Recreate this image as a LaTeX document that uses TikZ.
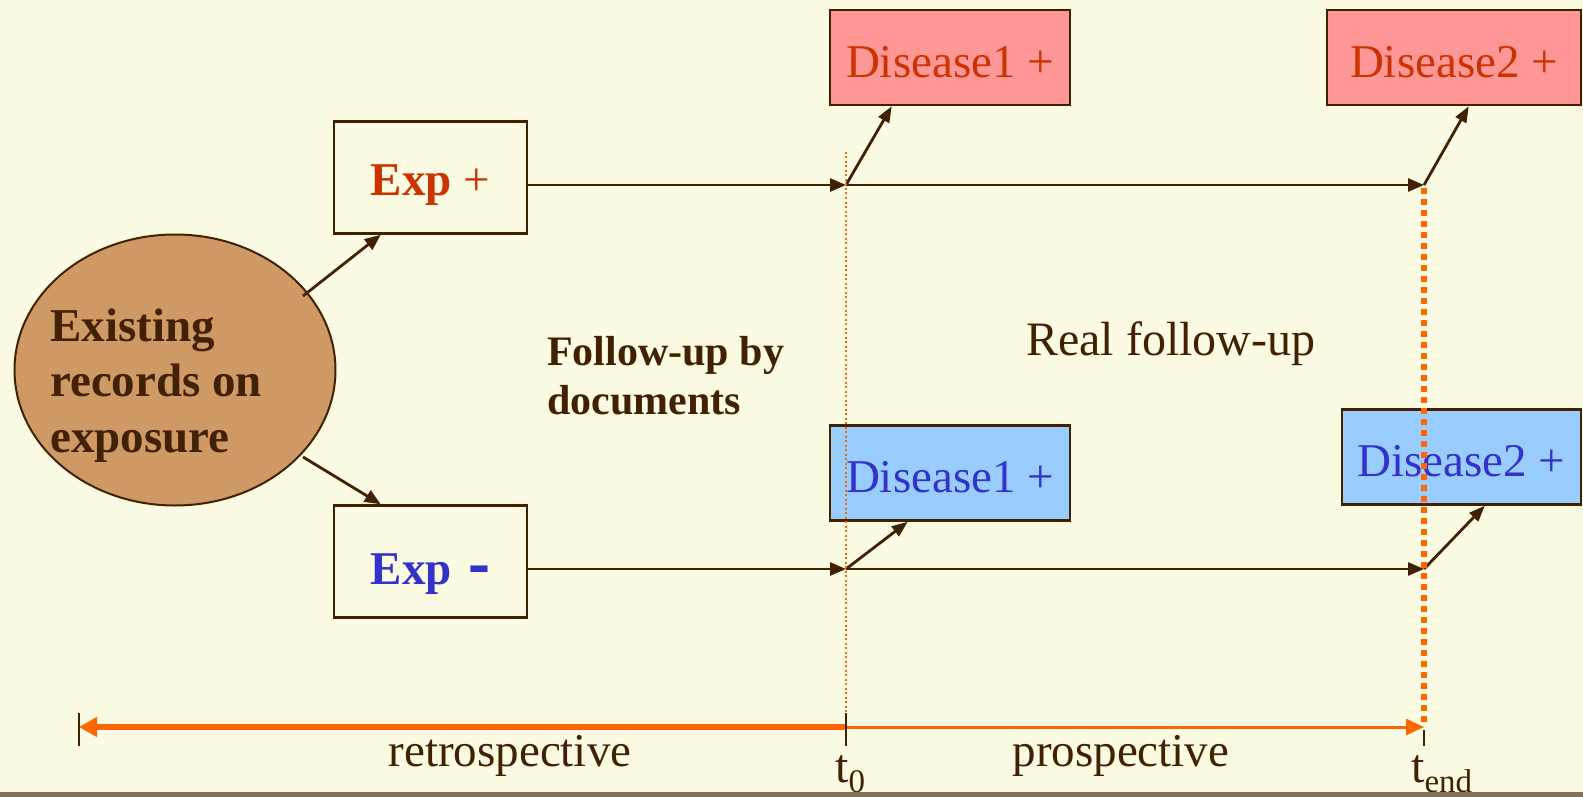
\documentclass[tikz,border=0pt]{standalone}
\usepackage{fontspec}
\setmainfont{Liberation Serif}
\usetikzlibrary{arrows.meta,shapes.geometric,calc}
\definecolor{bg}{HTML}{FBFBE3}
\definecolor{dkbrown}{HTML}{422100}
\definecolor{ellfill}{HTML}{CF9966}
\definecolor{redfill}{HTML}{FF9797}
\definecolor{redtext}{HTML}{CC3300}
\definecolor{bluefill}{HTML}{99CCFF}
\definecolor{bluetext}{HTML}{3333CC}
\definecolor{orng}{HTML}{FF6600}
\definecolor{barcol}{HTML}{857157}
\newcommand{\lowr}[2]{\raisebox{-#1}[\height][\depth]{#2}}
\tikzset{
  bigfont/.style={font=\fontsize{47}{56}\selectfont},
  expbox/.style={draw=dkbrown, line width=2.5, fill=bg, minimum width=193, minimum height=112, inner sep=0, bigfont},
  disbox/.style={draw=dkbrown, line width=2.5, minimum height=95, inner sep=0, bigfont},
  conn/.style={draw=dkbrown, line width=2.8, -{Triangle[length=16,width=13]}},
  diag/.style={draw=dkbrown, line width=2.8, -{Triangle[length=16,width=12]}},
}
\begin{document}
\begin{tikzpicture}[x=1pt,y=-1pt]
\fill[bg] (0,0) rectangle (1583,797);
\useasboundingbox (0,0) rectangle (1583,797);

% ellipse
\node[ellipse, draw=dkbrown, line width=2, fill=ellfill, minimum width=321, minimum height=271, inner sep=0] (rec) at (175,370) {};
\node[anchor=base west, inner sep=0, text=dkbrown, font=\fontsize{47}{55.5}\selectfont\bfseries] (rectext) at (50,341)
  {\begin{tabular}[t]{@{}l@{}}Existing\\records on\\exposure\end{tabular}};

% exposure boxes
\node[expbox] (expp) at (430.5,177.5) {\lowr{8pt}{\textcolor{redtext}{\textbf{Exp} +}}};
\node[expbox] (expm) at (430.5,561.5) {\lowr{13pt}{\textcolor{bluetext}{\textbf{Exp}\hspace{5pt} \raisebox{-3pt}{\scalebox{1.4}[1.65]{\textbf{-}}}}}};

% disease boxes
\node[disbox, fill=redfill, minimum width=240, text=redtext] (d1p) at (950,57.5) {\lowr{4.5pt}{Disease1 +}};
\node[disbox, fill=redfill, minimum width=254, text=redtext] (d2p) at (1454,57.5) {\lowr{4.5pt}{Disease2 +}};
\node[disbox, fill=bluefill, minimum width=240, text=bluetext] (d1m) at (950,473) {\lowr{4pt}{Disease1 +}};
\node[disbox, fill=bluefill, minimum width=239, text=bluetext] (d2m) at (1461.5,457) {\lowr{4pt}{Disease2 +}};

% texts
\node[anchor=base west, inner sep=0, text=dkbrown, font=\fontsize{42}{49}\selectfont\bfseries] (fubd) at (547,365)
  {\begin{tabular}[t]{@{}l@{}}Follow-up by\\documents\end{tabular}};
\node[anchor=base west, inner sep=0, text=dkbrown, font=\fontsize{48}{56}\selectfont] (rfu) at (1026,355) {Real follow-up};

% time points
\coordinate (t0u) at (846,185);
\coordinate (teu) at (1424,185);
\coordinate (t0d) at (846,569);
\coordinate (ted) at (1424,569);
\coordinate (tl) at (79,727);
\coordinate (t0b) at (846,727);
\coordinate (teb) at (1424,727);

% connectors
\draw[conn] ($(rec.center)+(128,-74)$) -- ($(expp.south west)+(48,0)$);
\draw[conn] ($(rec.center)+(128,87)$) -- ($(expm.north west)+(48,0)$);
\draw[conn] (expp.east |- t0u) -- (t0u);
\draw[conn] (t0u) -- (teu);
\draw[conn] (expm.east |- t0d) -- (t0d);
\draw[conn] (t0d) -- (ted);
\draw[diag] (t0u) -- ($(d1p.south west)+(63,0)$);
\draw[diag] (teu) -- ($(d2p.south west)+(143,0)$);
\draw[diag] (t0d) -- ($(d1m.south west)+(79,0)$);
\draw[diag] (ted) -- ($(d2m.south west)+(144,0)$);

% dotted verticals
\draw[orng, line width=2, dash pattern=on 2 off 2.5] (846,152) -- (846,713);
\draw[orng, line width=5.5, dash pattern=on 6 off 5] (1424,188) -- (1424,727);

% timeline
\draw[orng, line width=6, -{Triangle[length=18,width=19]}] (t0b) -- (tl);
\draw[orng, line width=3, -{Triangle[length=18,width=16]}] (t0b) -- (teb);
\draw[dkbrown, line width=1.5] (79,713) -- (79,746);
\draw[dkbrown, line width=1.5] (846,713) -- (846,746);
\draw[dkbrown, line width=1.5] (1424,730) -- (1424,746);

\node[anchor=base, inner sep=0, text=dkbrown, bigfont] (retro) at (510,766) {retrospective};
\node[anchor=base, inner sep=0, text=dkbrown, bigfont] (prosp) at (1121,766) {prospective};
\node[anchor=base west, inner sep=0, text=dkbrown, font=\fontsize{48}{56}\selectfont] (t0lab) at (835,782) {t\raisebox{-10pt}{\fontsize{33}{33}\selectfont 0}};
\node[anchor=base west, inner sep=0, text=dkbrown, font=\fontsize{48}{56}\selectfont] (telab) at (1411,782) {t\raisebox{-10pt}{\fontsize{33}{33}\selectfont end}};

\fill[barcol] (0,792) rectangle (1583,797);
\end{tikzpicture}
\end{document}
